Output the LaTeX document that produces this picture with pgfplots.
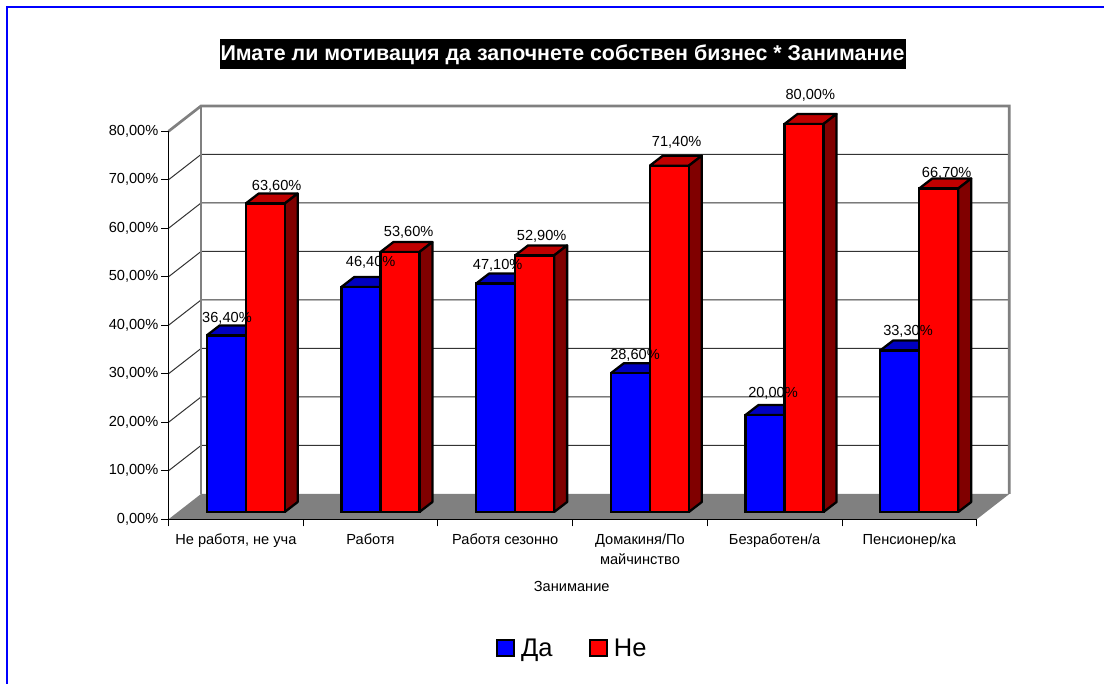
\documentclass[border=0pt]{standalone}
\usepackage{fontspec}
\setmainfont{Liberation Sans}
\usepackage{pgfplots}
\pgfplotsset{compat=1.18}
\definecolor{wallgray}{HTML}{808080}
\definecolor{gridc}{HTML}{333333}
\definecolor{btop}{HTML}{0000C0}
\definecolor{bside}{HTML}{000080}
\definecolor{rtop}{HTML}{C00000}
\definecolor{rside}{HTML}{800000}
\definecolor{bfront}{HTML}{0000FF}
\definecolor{rfront}{HTML}{FF0000}
\newcommand{\lblfont}{\fontsize{14.6bp}{20bp}\selectfont}
% x left edge, value, top colour, side colour
\newcommand{\depthfaces}[4]{%
  \pgfmathsetmacro{\xr}{#1+39}%
  \pgfmathsetmacro{\xlb}{#1+13}%
  \pgfmathsetmacro{\xrb}{#1+52}%
  \pgfmathsetmacro{\vb}{#2+2.062}%
  \addplot[forget plot,fill=#3,draw=black,line width=2.3bp,line join=round] coordinates {(#1,#2)(\xlb,\vb)(\xrb,\vb)(\xr,#2)(#1,#2)};
  \addplot[forget plot,fill=#4,draw=black,line width=2.3bp,line join=round] coordinates {(\xr,0)(\xrb,2.062)(\xrb,\vb)(\xr,#2)(\xr,0)};
}
\newcommand{\gridrow}[2]{%
  \addplot[forget plot,gridc,line width=1bp] coordinates {(168.5,#1)(201,#2)(1009.3,#2)};
}
\begin{document}
\begin{tikzpicture}
\path[use as bounding box] (0,0) rectangle (1104bp,684bp);
\draw[color=blue,line width=2.4bp] (7bp,0)--(7bp,677.2bp)--(1104bp,677.2bp);
\begin{axis}[
  at={(0,0)},anchor=south west,
  scale only axis,width=1104bp,height=684bp,
  xmin=0,xmax=1104,ymin=-35.464,ymax=105.567,
  hide axis,clip=false,
  title={Имате ли мотивация да започнете собствен бизнес * Занимание},
  title style={at={(0.5095,0.9118)},anchor=center,fill=black,text=white,
    font=\fontsize{21.4bp}{24bp}\selectfont\bfseries,inner xsep=1bp,text height=16bp,text depth=4bp,inner ysep=5bp},
  legend style={at={(0.5183,0.0525)},anchor=center,draw=none,fill=none,legend columns=2,
    font=\fontsize{25.5bp}{30bp}\selectfont,
    /tikz/every even column/.style={column sep=34bp}},
  legend image code/.code={\draw[#1,draw=black,line width=2.3bp] (0bp,-8bp) rectangle (17bp,8bp);\path (21bp,0);},
]
% floor
\addplot[forget plot,fill=wallgray,draw=none] coordinates {(168.5,-1.505)(201,3.711)(1009.3,3.711)(976.7,-1.505)(168.5,-1.505)};
% wall grid lines
\gridrow{8.495}{13.711}
\gridrow{18.495}{23.711}
\gridrow{28.495}{33.711}
\gridrow{38.495}{43.711}
\gridrow{48.495}{53.711}
\gridrow{58.495}{63.711}
\gridrow{68.495}{73.711}
% wall frame
\addplot[forget plot,wallgray,line width=2.7bp] coordinates {(168.5,78.495)(201,83.711)(1009.3,83.711)(1009.3,3.711)};
\addplot[forget plot,wallgray,line width=2.7bp] coordinates {(201,83.711)(201,3.711)};
% blue series
\depthfaces{206.7}{36.4}{btop}{bside}
\depthfaces{341.4}{46.4}{btop}{bside}
\depthfaces{476.1}{47.1}{btop}{bside}
\depthfaces{610.8}{28.6}{btop}{bside}
\depthfaces{745.5}{20.0}{btop}{bside}
\depthfaces{880.2}{33.3}{btop}{bside}
\addplot[ybar,bar width=39,bar shift=0pt,fill=bfront,draw=black,line width=2.3bp] coordinates
  {(226.2,36.4)(360.9,46.4)(495.6,47.1)(630.3,28.6)(765,20.0)(899.7,33.3)};
\addlegendentry{Да}
% red series
\depthfaces{245.7}{63.6}{rtop}{rside}
\depthfaces{380.4}{53.6}{rtop}{rside}
\depthfaces{515.1}{52.9}{rtop}{rside}
\depthfaces{649.8}{71.4}{rtop}{rside}
\depthfaces{784.5}{80.0}{rtop}{rside}
\depthfaces{919.2}{66.7}{rtop}{rside}
\addplot[ybar,bar width=39,bar shift=0pt,fill=rfront,draw=black,line width=2.3bp] coordinates
  {(265.2,63.6)(399.9,53.6)(534.6,52.9)(669.3,71.4)(804,80.0)(938.7,66.7)};
\addlegendentry{Не}
% data labels
\addplot[forget plot,only marks,mark=none,draw=none,point meta=explicit symbolic,
  nodes near coords,
  every node near coord/.style={anchor=base,inner sep=0pt,text=black,font=\lblfont}]
  coordinates {
  (227,38.97)[36,40\%]
  (276.7,66.25)[63,60\%]
  (370.7,50.58)[46,40\%]
  (408.7,56.76)[53,60\%]
  (497.7,50.04)[47,10\%]
  (541.7,55.88)[52,90\%]
  (635,31.34)[28,60\%]
  (676.7,75.26)[71,40\%]
  (773,23.71)[20,00\%]
  (810.3,85.09)[80,00\%]
  (908,36.49)[33,30\%]
  (946.7,68.93)[66,70\%]
  };
\end{axis}
\begin{axis}[
  at={(168.5bp,164.7bp)},anchor=south west,
  scale only axis,width=808.2bp,height=388.3bp,
  xmin=0,xmax=6,ymin=0,ymax=80,
  axis x line=bottom,axis y line=left,
  axis line style={-,black,line width=1.2bp},
  tick style={black,line width=1bp},
  major tick length=7bp,
  tick align=outside,
  xtick={0,1,2,3,4,5,6},
  x tick label as interval,
  xticklabels={{Не работя, не уча},{Работя},{Работя сезонно},{Домакиня/По\\майчинство},{Безработен/а},{Пенсионер/ка}},
  xticklabel style={align=center,font=\lblfont,text=black,inner sep=0pt,yshift=-7bp},
  ytick={0,10,20,30,40,50,60,70,80},
  yticklabels={{0,00\%},{10,00\%},{20,00\%},{30,00\%},{40,00\%},{50,00\%},{60,00\%},{70,00\%},{80,00\%}},
  yticklabel style={font=\lblfont,text=black,inner sep=0pt,xshift=-3bp},
  xlabel={Занимание},
  xlabel style={at={(0.4989,-0.172)},anchor=center,font=\lblfont,text=black},
]
\end{axis}
\end{tikzpicture}
\end{document}
